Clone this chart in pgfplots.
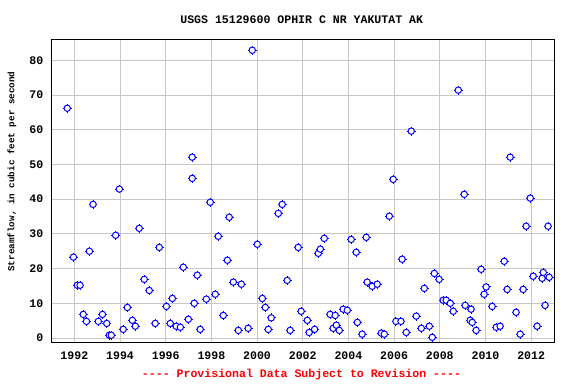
\documentclass[border=0pt]{standalone}
\usepackage{fontspec}
\setmonofont{Liberation Mono}
\usepackage{pgfplots}
\pgfplotsset{compat=1.18}
\usepackage{pgfplotstable}
\pgfplotstableread{
x y
1991.69 66.2
1991.96 23.3
1992.13 15.2
1992.25 15.2
1992.39 6.8
1992.53 4.8
1992.66 25.0
1992.82 38.5
1993.05 4.8
1993.23 6.8
1993.42 4.2
1993.53 0.8
1993.62 0.8
1993.81 29.6
1993.97 42.9
1994.14 2.5
1994.32 8.8
1994.54 5.1
1994.67 3.4
1994.84 31.6
1995.06 16.9
1995.28 13.7
1995.54 4.2
1995.72 26.1
1996.03 9.1
1996.20 4.2
1996.29 11.4
1996.46 3.4
1996.64 3.1
1996.77 20.4
1996.99 5.4
1997.16 52.1
1997.16 46.0
1997.25 10.0
1997.38 18.1
1997.51 2.5
1997.78 11.2
1997.95 39.1
1998.17 12.6
1998.30 29.3
1998.52 6.5
1998.70 22.4
1998.78 34.8
1998.96 16.1
1999.18 2.2
1999.31 15.5
1999.61 2.8
1999.79 82.9
2000.01 27.0
2000.23 11.4
2000.36 8.8
2000.49 2.5
2000.62 5.8
2000.93 35.9
2001.10 38.5
2001.32 16.6
2001.45 2.2
2001.80 26.1
2001.93 7.7
2002.20 5.1
2002.28 1.6
2002.52 2.5
2002.68 24.4
2002.77 25.6
2002.94 28.7
2003.20 6.8
2003.33 2.8
2003.42 6.5
2003.47 3.7
2003.60 2.2
2003.77 8.3
2003.95 8.0
2004.12 28.4
2004.34 24.7
2004.39 4.5
2004.60 1.1
2004.78 29.0
2004.82 16.1
2005.04 14.9
2005.26 15.5
2005.44 1.4
2005.57 1.1
2005.79 35.1
2005.96 45.7
2006.08 4.8
2006.30 4.8
2006.35 22.7
2006.53 1.6
2006.75 59.6
2006.97 6.3
2007.19 2.8
2007.32 14.3
2007.54 3.4
2007.67 0.2
2007.76 18.6
2007.97 16.9
2008.15 10.9
2008.28 10.9
2008.46 10.0
2008.59 7.7
2008.81 71.4
2009.07 41.4
2009.11 9.4
2009.33 5.1
2009.37 8.3
2009.42 4.5
2009.59 2.2
2009.81 19.8
2009.94 12.6
2010.03 14.7
2010.29 9.1
2010.47 3.1
2010.64 3.4
2010.82 22.1
2010.95 14.0
2011.08 52.1
2011.34 7.4
2011.52 1.1
2011.65 14.0
2011.78 32.2
2011.96 40.3
2012.09 17.8
2012.26 3.4
2012.48 17.2
2012.53 18.9
2012.61 9.4
2012.74 32.2
2012.79 17.5
}\flowdata
\begin{document}
\begin{tikzpicture}
\path[use as bounding box] (-51.5bp,-42bp) rectangle (524.5bp,342bp);
\begin{axis}[
  at={(0,0)}, anchor=south west,
  scale only axis, width=502.5bp, height=302.5bp,
  xmin=1991.0, xmax=2013.0, ymin=-1.15, ymax=86,
  xtick={1992,1994,...,2012}, ytick={0,10,...,80},
  grid=major, major grid style={color=black!22, line width=1bp},
  axis line style={line width=1bp},
  major tick length=0pt,
  tick label style={font=\fontsize{11.6}{12}\selectfont\ttfamily\bfseries},
  /pgf/number format/assume math mode=true,
  /pgf/number format/1000 sep={},
  xticklabel style={anchor=north, inner sep=0pt, yshift=-9.5bp},
  yticklabel style={anchor=east, inner sep=0pt, xshift=-8bp},
]
\addplot[only marks, mark=+, mark size=4.4bp, mark options={draw=blue, line width=1bp}] table[x=x,y=y] {\flowdata};
\addplot[only marks, mark=*, mark size=3.2bp, mark options={draw=blue, fill=white, line width=1bp}] table[x=x,y=y] {\flowdata};
\end{axis}
\node[font=\fontsize{11.6}{12}\selectfont\ttfamily\bfseries] at (250.2bp,322bp) {USGS 15129600 OPHIR C NR YAKUTAT AK};
\node[rotate=90, font=\fontsize{9.3}{10}\selectfont\ttfamily\bfseries] at (-39.5bp,170.5bp) {Streamflow, in cubic feet per second};
\node[text=red, font=\fontsize{11.6}{12}\selectfont\ttfamily\bfseries] at (250bp,-33bp) {---- Provisional Data Subject to Revision ----};
\end{tikzpicture}
\end{document}
